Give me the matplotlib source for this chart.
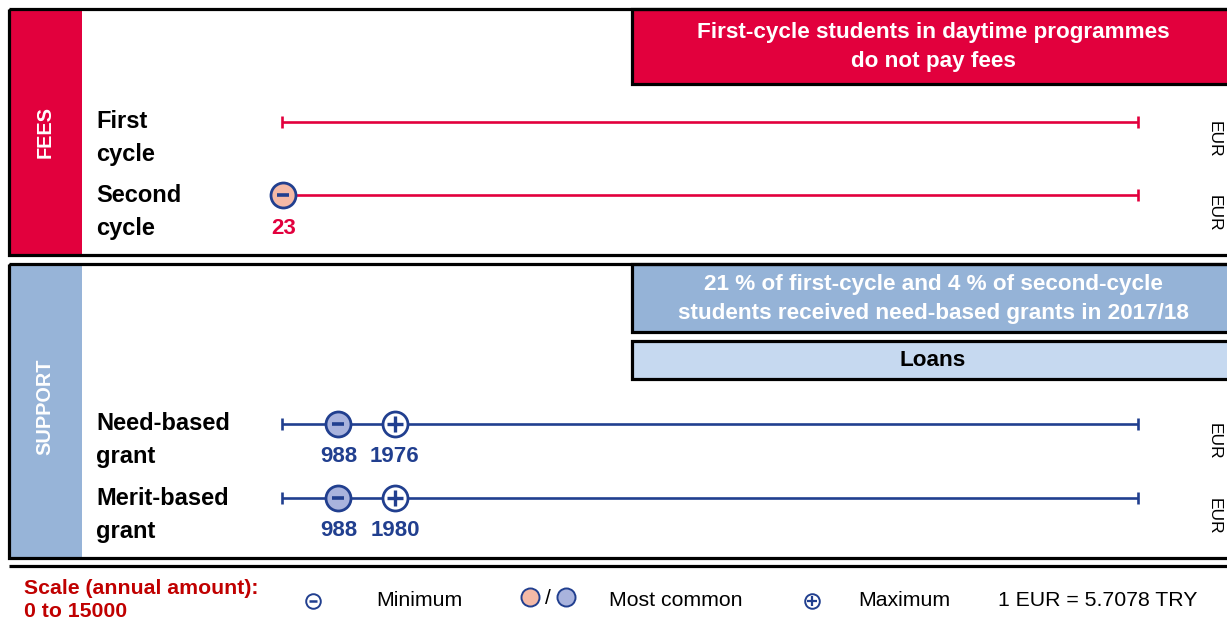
import matplotlib
matplotlib.use("Agg")
import matplotlib.pyplot as plt
import matplotlib.patches as mpatches

# ---- data -------------------------------------------------------------
SCALE_MAX = 15000

fee_rows = ["First\ncycle", "Second\ncycle"]
fee_min = [None, 23]
fee_common = [None, 23]
fee_max = [None, None]

support_rows = ["Need-based\ngrant", "Merit-based\ngrant"]
support_min = [988, 988]
support_common = [988, 988]
support_max = [1976, 1980]

fees_note = "First-cycle students in daytime programmes\ndo not pay fees"
support_note = "21 % of first-cycle and 4 % of second-cycle\nstudents received need-based grants in 2017/18"
loans_note = "Loans"
rate_note = "1 EUR = 5.7078 TRY"

# ---- style ------------------------------------------------------------
RED = "#E2003D"
PINK = "#F4B9A6"
BLUE = "#213F8F"
LAVENDER = "#A9B3DD"
SUPPORT_BAR = "#97B4D8"
NOTE_BLUE = "#95B3D7"
LOANS_BLUE = "#C6D9F0"
DARK_RED = "#C00000"

NARROW = ["Liberation Sans Narrow", "Liberation Sans", "DejaVu Sans"]
SANS = ["Liberation Sans", "DejaVu Sans"]

W, H = 1227, 623
fig = plt.figure(figsize=(W / 100, H / 100), dpi=100)

# background axes in pixel units
bg = fig.add_axes([0, 0, 1, 1])
bg.set_xlim(0, W)
bg.set_ylim(H, 0)
bg.axis("off")

# data axes: amount scale 0..15000 between x=282 and x=1138 px
x0, x1 = 282, 1138
ax = fig.add_axes([x0 / W, 0, (x1 - x0) / W, 1])
ax.set_xlim(0, SCALE_MAX)
ax.set_ylim(H, 0)
ax.axis("off")
ax.patch.set_alpha(0)

LW_FRAME = 2.3


def panel(top, bottom, bar_color, title, dy):
    bg.add_patch(mpatches.Rectangle((9, top), 73, bottom - top,
                                    facecolor=bar_color, edgecolor="none", zorder=1))
    bg.add_patch(mpatches.Rectangle((9, top), 1300, bottom - top,
                                    facecolor="none", edgecolor="black",
                                    linewidth=LW_FRAME, zorder=3))
    bg.text(45, (top + bottom) / 2 + dy, title, rotation=90, ha="center", va="center",
            color="white", fontsize=14.3, fontweight="bold", family=SANS, zorder=4)


def note_box(top, bottom, color, text, tcolor, cy):
    bg.add_patch(mpatches.Rectangle((632, top), 700, bottom - top,
                                    facecolor=color, edgecolor="black",
                                    linewidth=LW_FRAME, zorder=2))
    bg.text(933, cy, text, ha="center", va="center", color=tcolor,
            fontsize=16.2, fontweight="bold", family=NARROW, linespacing=1.47, zorder=4)


def draw_row(y, label, label_y, color, vmin, vcommon, vmax, fill):
    bg.text(96, label_y, label, ha="left", va="center", fontsize=17,
            fontweight="bold", family=NARROW, linespacing=1.52)
    ax.plot([0, SCALE_MAX], [y, y], color=color, lw=1.9, solid_capstyle="butt",
            zorder=2, clip_on=False)
    ax.plot([0, SCALE_MAX], [y, y], ls="none", marker="|", ms=9, mew=1.9,
            color=color, zorder=2, clip_on=False)
    if vcommon is not None:
        ax.plot([vcommon], [y], marker="o", ms=18, mfc=fill, mec=BLUE, mew=2,
                ls="none", zorder=4, clip_on=False)
    if vmin is not None:
        ax.plot([vmin], [y], marker="_", ms=9, mew=2.6, color=BLUE, ls="none",
                zorder=5, clip_on=False)
        ax.text(vmin, y + 33, f"{vmin}", ha="center", va="center", color=color,
                fontsize=16, fontweight="bold", family=NARROW, zorder=5)
    if vmax is not None:
        ax.plot([vmax], [y], marker="o", ms=18, mfc="white", mec=BLUE, mew=2,
                ls="none", zorder=4, clip_on=False)
        ax.plot([vmax], [y], marker="+", ms=11, mew=2.4, color=BLUE, ls="none",
                zorder=5, clip_on=False)
        ax.text(vmax, y + 33, f"{vmax}", ha="center", va="center", color=color,
                fontsize=16, fontweight="bold", family=NARROW, zorder=5)
    bg.text(1214, label_y + 1, "EUR", rotation=270, ha="center", va="center",
            fontsize=12.5, family=SANS)


# ---- fees panel -------------------------------------------------------
panel(9, 255, RED, "FEES", 0)
note_box(9, 84, RED, fees_note, "white", 47)
fee_y = [122, 195]
fee_label_y = [138, 212]
for i in range(len(fee_rows)):
    draw_row(fee_y[i], fee_rows[i], fee_label_y[i], RED,
             fee_min[i], fee_common[i], fee_max[i], PINK)

# ---- support panel ----------------------------------------------------
panel(264, 558, SUPPORT_BAR, "SUPPORT", -4)
note_box(264, 332, NOTE_BLUE, support_note, "white", 299)
note_box(341, 379, LOANS_BLUE, loans_note, "black", 360)
sup_y = [424, 498]
sup_label_y = [440, 515]
for i in range(len(support_rows)):
    draw_row(sup_y[i], support_rows[i], sup_label_y[i], BLUE,
             support_min[i], support_common[i], support_max[i], LAVENDER)

# ---- legend -----------------------------------------------------------
bg.plot([9, W], [566, 566], color="black", lw=LW_FRAME, solid_capstyle="butt")
bg.text(24, 600, "Scale (annual amount):\n0 to " + str(SCALE_MAX), ha="left", va="center",
        color=DARK_RED, fontsize=15.3, fontweight="bold", family=SANS, linespacing=1.22)

bg.plot([313], [601], marker="o", ms=10.5, mfc="white", mec=BLUE, mew=1.4, ls="none")
bg.plot([313], [601], marker="_", ms=6, mew=1.8, color=BLUE, ls="none")
bg.text(376, 601, "Minimum", ha="left", va="center", fontsize=15.3, family=SANS)

bg.plot([530], [597], marker="o", ms=13, mfc=PINK, mec=BLUE, mew=1.4, ls="none")
bg.text(548, 599, "/", ha="center", va="center", fontsize=15, family=SANS)
bg.plot([566], [597], marker="o", ms=13, mfc=LAVENDER, mec=BLUE, mew=1.4, ls="none")
bg.text(609, 601, "Most common", ha="left", va="center", fontsize=15.3, family=SANS)

bg.plot([812], [601], marker="o", ms=10.5, mfc="white", mec=BLUE, mew=1.4, ls="none")
bg.plot([812], [601], marker="+", ms=7, mew=1.6, color=BLUE, ls="none")
bg.text(858, 601, "Maximum", ha="left", va="center", fontsize=15.3, family=SANS)

bg.text(998, 601, rate_note, ha="left", va="center", fontsize=15.3, family=SANS)

fig.savefig("out.png", dpi=100, facecolor="white")
